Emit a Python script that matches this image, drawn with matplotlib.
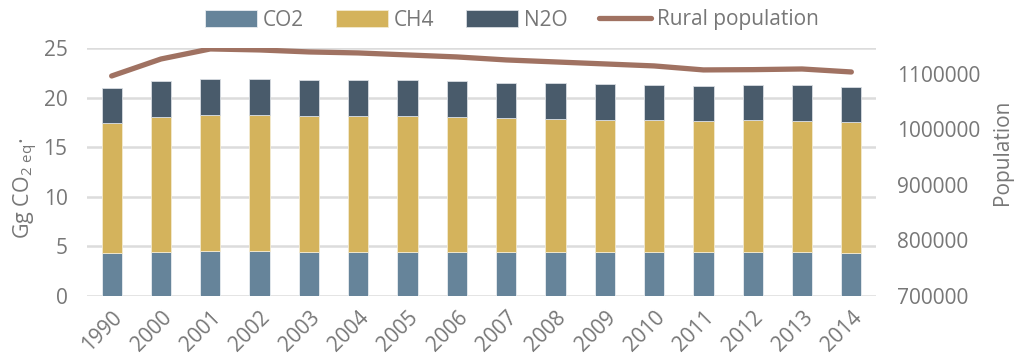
import numpy as np
import matplotlib.pyplot as plt
from matplotlib.ticker import StrMethodFormatter

plt.rcParams['font.family'] = ['Open Sans', 'DejaVu Sans']

years = ['1990', '2000', '2001', '2002', '2003', '2004', '2005', '2006',
         '2007', '2008', '2009', '2010', '2011', '2012', '2013', '2014']
co2 = [4.36, 4.47, 4.54, 4.50, 4.47, 4.47, 4.47, 4.47,
       4.45, 4.40, 4.40, 4.40, 4.40, 4.40, 4.40, 4.37]
ch4 = [13.11, 13.57, 13.71, 13.70, 13.71, 13.68, 13.63, 13.57,
       13.49, 13.44, 13.38, 13.34, 13.24, 13.30, 13.27, 13.20]
n2o = [3.50, 3.60, 3.65, 3.67, 3.62, 3.62, 3.64, 3.63,
       3.56, 3.60, 3.59, 3.56, 3.56, 3.54, 3.57, 3.53]
rural_pop = [1096400, 1127000, 1145100, 1143300, 1139700, 1137900, 1134300, 1130700,
             1125300, 1121700, 1118100, 1114500, 1107300, 1107800, 1109000, 1103600]

c_co2 = '#66849a'
c_ch4 = '#d4b35c'
c_n2o = '#495b6b'
c_line = '#a07262'
grey = '#777777'

fig = plt.figure(figsize=(10.14, 3.62), dpi=100)
ax = fig.add_axes([87 / 1014, 1 - 296 / 362, 789 / 1014, 248 / 362])
ax2 = ax.twinx()

x = np.arange(len(years))
w = 0.41
co2 = np.array(co2)
ch4 = np.array(ch4)
n2o = np.array(n2o)
ax.bar(x, co2, w, color=c_co2, edgecolor='#e8edf0', linewidth=0.6, label='CO2', zorder=2)
ax.bar(x, ch4, w, bottom=co2, color=c_ch4, edgecolor='#f3ead0', linewidth=0.6, label='CH4', zorder=2)
ax.bar(x, n2o, w, bottom=co2 + ch4, color=c_n2o, edgecolor='#d8dde2', linewidth=0.6, label='N2O', zorder=2)

ax2.plot(x, rural_pop, color=c_line, linewidth=3.8, solid_capstyle='round',
         solid_joinstyle='round', label='Rural population')

ax.set_xlim(-0.5, len(years) - 0.5)
ax.set_ylim(0, 25)
ax.set_yticks([0, 5, 10, 15, 20, 25])
# secondary axis tops out above its last labelled tick
ax2.set_ylim(700000, 1146800)
ax2.set_yticks([700000, 800000, 900000, 1000000, 1100000])
ax2.yaxis.set_major_formatter(StrMethodFormatter('{x:.0f}'))

ax.grid(axis='y', color='#dcdcdc', linewidth=1.8, zorder=0)
ax.set_axisbelow(True)
for a in (ax, ax2):
    for s in a.spines.values():
        s.set_visible(False)
    a.tick_params(length=0, labelsize=15, labelcolor=grey)

ax.set_xticks(x)
ax.set_xticklabels(years, rotation=45, ha='right', rotation_mode='anchor')
ax.tick_params(axis='x', pad=8)
ax.tick_params(axis='y', pad=14)
ax2.tick_params(axis='y', pad=15)

ax.set_ylabel(r'Gg CO$_{\mathregular{2\ eq}}$·', fontsize=15.5, color=grey)
ax.yaxis.set_label_coords(-0.06, 0.435)
ax2.set_ylabel('Population', fontsize=15, color=grey)
ax2.yaxis.set_label_coords(1.147, 0.58)

h1, l1 = ax.get_legend_handles_labels()
h2, l2 = ax2.get_legend_handles_labels()
fig.legend(h1 + h2, l1 + l2, loc='center', bbox_to_anchor=(512 / 1014, 1 - 20 / 362),
           ncol=4, frameon=False, fontsize=15, labelcolor=grey,
           handlelength=2.5, handleheight=0.9, handletextpad=0.3, columnspacing=1.5)

fig.savefig('out.png', dpi=100)
